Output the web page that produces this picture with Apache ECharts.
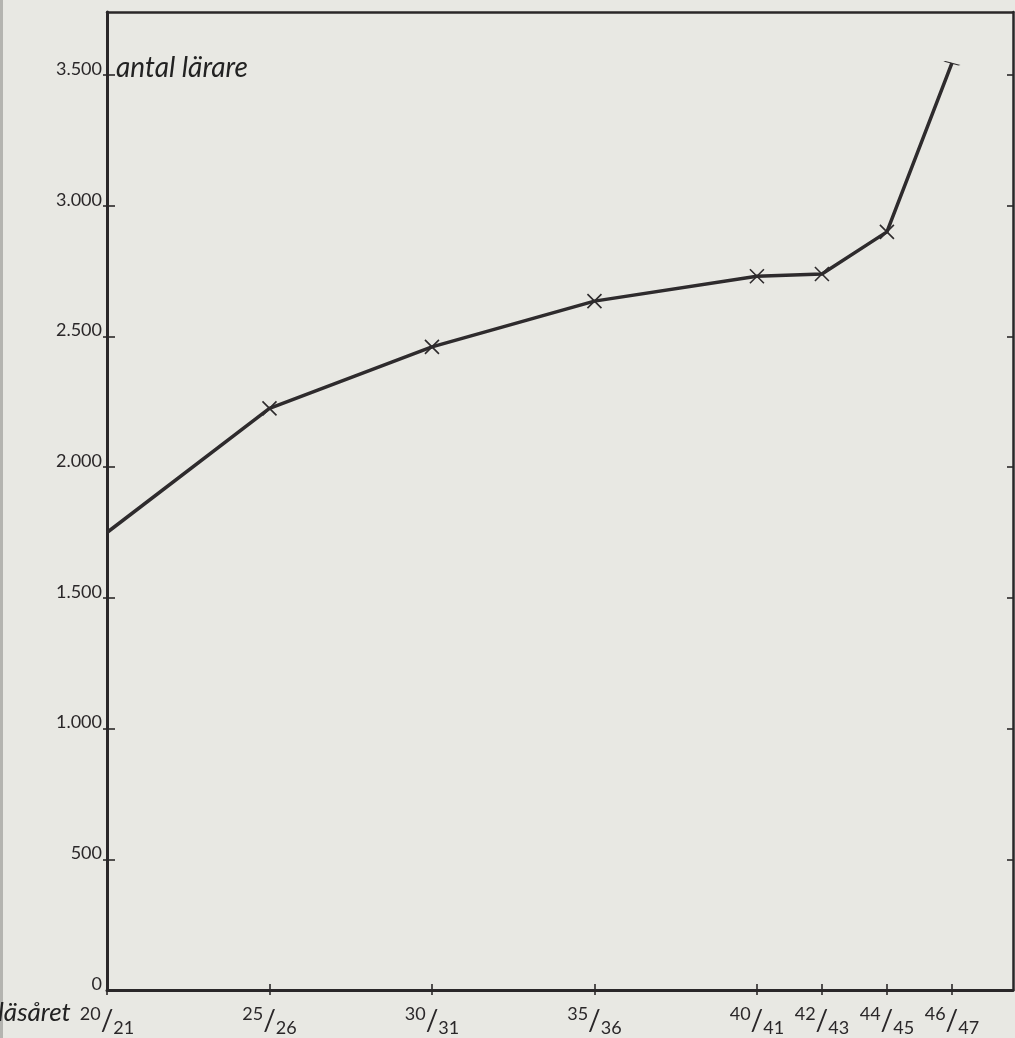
<!DOCTYPE html>
<html>
<head>
<meta charset="utf-8">
<script src="https://cdn.jsdelivr.net/npm/echarts@6/dist/echarts.min.js"></script>
<style>
  html, body { margin: 0; padding: 0; background: #e8e8e3; }
  #chart { width: 1015px; height: 1038px; }
</style>
</head>
<body>
<div id="chart"></div>
<script>
// school years: start year of "läsåret" (20 = 1920/21 ...)
const years = [20, 25, 30, 35, 40, 42, 44, 46];
// antal lärare
const teachers = [1750, 2225, 2460, 2635, 2730, 2739, 2900, 3545];
// y tick values and their printed labels
const yTicks = [0, 500, 1000, 1500, 2000, 2500, 3000, 3500];
const yTickLabels = ['0', '500', '1.000', '1.500', '2.000', '2.500', '3.000', '3.500'];
const yTitle = 'antal lärare';
const xTitle = 'läsåret';

const INK = '#2a2729';
const X_MIN = 20, X_MAX = 47.88, Y_MAX = 3741;

const data = years.map((y, i) => {
  const item = { value: [y, teachers[i]] };
  if (i === 0) item.symbol = 'none';
  else if (i === years.length - 1) {
    item.symbol = 'path://M0,0L15,4';
    item.symbolSize = [15, 4];
  }
  return item;
});

const chart = echarts.init(document.getElementById('chart'), null, { renderer: 'canvas' });
chart.setOption({
  backgroundColor: '#e8e8e3',
  animation: false,
  grid: { left: 107, right: 2, top: 12, bottom: 48, containLabel: false },
  xAxis: [
    {
      type: 'value', min: X_MIN, max: X_MAX, position: 'bottom',
      axisLine: { show: true, onZero: false, lineStyle: { color: INK, width: 3 } },
      axisTick: { show: true, inside: true, length: 6, customValues: years, lineStyle: { color: INK, width: 1.6 } },
      splitLine: { show: false },
      axisLabel: {
        customValues: years,
        margin: 15,
        color: INK,
        fontFamily: 'Lato',
        formatter: v => '{n|' + v + '}{s|/}{d|' + (v + 1) + '}',
        rich: {
          n: { fontSize: 18, fontFamily: 'Lato', color: INK, lineHeight: 18, verticalAlign: 'top' },
          s: { fontSize: 28, fontFamily: 'Lato', color: INK, lineHeight: 32, verticalAlign: 'middle' },
          d: { fontSize: 18, fontFamily: 'Lato', color: INK, lineHeight: 18, verticalAlign: 'bottom' }
        }
      }
    },
    {
      type: 'value', min: X_MIN, max: X_MAX, position: 'top',
      axisLine: { show: true, onZero: false, lineStyle: { color: INK, width: 2.5 } },
      axisTick: { show: false }, axisLabel: { show: false }, splitLine: { show: false }
    },
    {
      type: 'value', min: X_MIN, max: X_MAX, position: 'bottom',
      axisLine: { show: false },
      axisTick: { show: true, inside: false, length: 5, customValues: years, lineStyle: { color: INK, width: 1.6 } },
      axisLabel: { show: false }, splitLine: { show: false }
    }
  ],
  yAxis: [
    {
      type: 'value', min: 0, max: Y_MAX, position: 'left',
      axisLine: { show: true, onZero: false, lineStyle: { color: INK, width: 3 } },
      axisTick: { show: true, inside: true, length: 8, customValues: yTicks, lineStyle: { color: INK, width: 1.6 } },
      splitLine: { show: false },
      axisLabel: {
        customValues: yTicks,
        formatter: v => yTickLabels[yTicks.indexOf(v)],
        align: 'right', verticalAlign: 'bottom', lineHeight: 12,
        margin: 5, color: INK, fontSize: 18, fontFamily: 'Lato'
      }
    },
    {
      type: 'value', min: 0, max: Y_MAX, position: 'right',
      axisLine: { show: true, onZero: false, lineStyle: { color: INK, width: 2.5 } },
      axisTick: { show: true, inside: true, length: 6, customValues: yTicks, lineStyle: { color: INK, width: 1.6 } },
      axisLabel: { show: false }, splitLine: { show: false }
    },
    {
      type: 'value', min: 0, max: Y_MAX, position: 'left',
      axisLine: { show: false },
      axisTick: { show: true, inside: false, length: 4, customValues: yTicks.slice(1), lineStyle: { color: INK, width: 1.6 } },
      axisLabel: { show: false }, splitLine: { show: false }
    }
  ],
  series: [{
    type: 'line',
    data: data,
    symbol: 'path://M0,0L10,10M10,0L0,10',
    symbolSize: 14,
    showAllSymbol: true,
    lineStyle: { color: '#2e2b2d', width: 3.5 },
    itemStyle: { color: 'rgba(0,0,0,0)', borderColor: '#2e2b2d', borderWidth: 1.6 },
    z: 5
  }],
  graphic: [
    { type: 'rect', left: 0, top: 0, shape: { width: 3, height: 1038 }, style: { fill: '#b4b4b0' }, silent: true },
    { type: 'text', x: 116, y: 54, style: { text: yTitle, fill: '#222', font: 'italic 28px Lato', textVerticalAlign: 'top' } },
    { type: 'text', x: -2, y: 1000, style: { text: xTitle, fill: '#222', font: 'italic 26px Lato', textVerticalAlign: 'top' } }
  ]
});
</script>
</body>
</html>
